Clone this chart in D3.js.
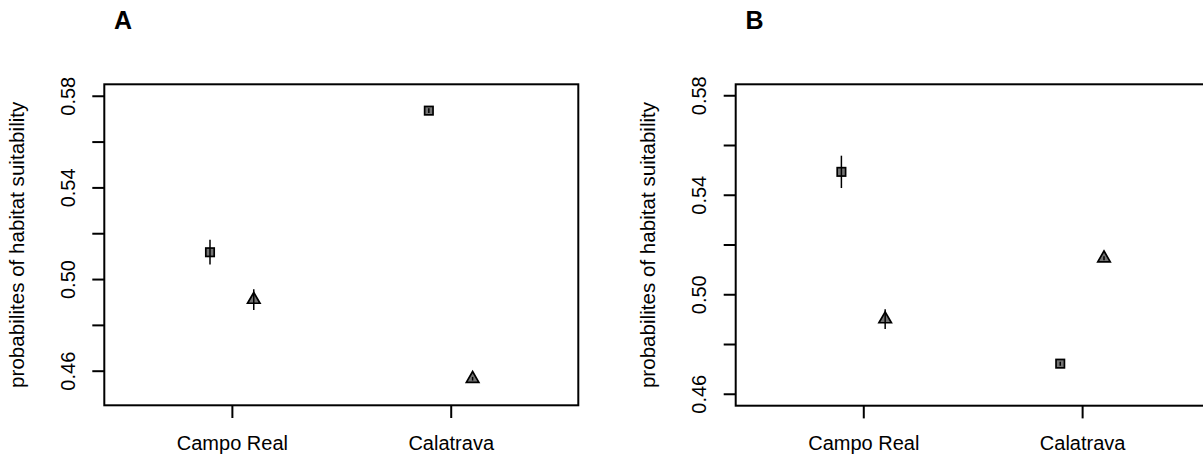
<!DOCTYPE html>
<html>
<head>
<meta charset="utf-8">
<script src="https://cdn.jsdelivr.net/npm/d3@7"></script>
<style>
  html, body { margin: 0; padding: 0; background: #fff; }
  svg { display: block; }
  text { font-family: Arial, "Liberation Sans", sans-serif; fill: #000; }
</style>
</head>
<body>
<svg id="chart" width="1203" height="455"></svg>
<script>
// ---- data ----
const sites = ["Campo Real", "Calatrava"];
const panelLabels = ["A", "B"];
const yTicks = [0.46, 0.48, 0.50, 0.52, 0.54, 0.56, 0.58];
const yTickLabels = ["0.46", "", "0.50", "", "0.54", "", "0.58"];
const yTitle = "probabilites of habitat suitability";

// panel A
const squareMeanA = [0.5117, 0.5735];
const squareErrA  = [0.0054, 0.0010];
const triMeanA    = [0.4910, 0.4565];
const triErrA     = [0.0045, 0.0008];
// panel B
const squareMeanB = [0.5492, 0.4721];
const squareErrB  = [0.0065, 0.0008];
const triMeanB    = [0.4900, 0.5145];
const triErrB     = [0.0040, 0.0008];

const yDomainA = [0.4449, 0.5850];
const yDomainB = [0.4552, 0.5844];

// ---- layout ----
const svg = d3.select("#chart");
const panels = [
  { label: panelLabels[0], left: 104.3, right: 578.3, top: 84.3, bottom: 405.3, yDomain: yDomainA,
    sq: squareMeanA, sqE: squareErrA, tr: triMeanA, trE: triErrA },
  { label: panelLabels[1], left: 735.7, right: 1209.7, top: 84.3, bottom: 405.7, yDomain: yDomainB,
    sq: squareMeanB, sqE: squareErrB, tr: triMeanB, trE: triErrB }
];
const offset = 0.1;
const fillGrey = "#737373";

panels.forEach(p => {
  const g = svg.append("g");
  const x = d3.scaleLinear().domain([0.417, 2.583]).range([p.left, p.right]);
  const y = d3.scaleLinear().domain(p.yDomain).range([p.bottom, p.top]);

  // panel letter
  g.append("text")
    .attr("x", p.left + 9.7).attr("y", 29)
    .style("font-size", "25px").style("font-weight", "bold")
    .text(p.label);

  // y axis
  const yAxis = d3.axisLeft(y).tickValues(yTicks)
    .tickFormat((d, i) => yTickLabels[i]).tickSize(12).tickSizeOuter(0);
  const ya = g.append("g").attr("transform", `translate(${p.left},0)`).call(yAxis);
  ya.select(".domain").remove();
  ya.selectAll(".tick line").attr("stroke", "#000").attr("stroke-width", 2);
  ya.selectAll(".tick text")
    .attr("x", null).attr("dy", null)
    .attr("transform", "translate(-29.3,0) rotate(-90)")
    .attr("text-anchor", "middle")
    .style("font-size", "20px").style("font-family", "Arial, 'Liberation Sans', sans-serif");

  // x axis
  const xAxis = d3.axisBottom(x).tickValues([1, 2])
    .tickFormat((d, i) => sites[i]).tickSize(12.7).tickSizeOuter(0);
  const xa = g.append("g").attr("transform", `translate(0,${p.bottom})`).call(xAxis);
  xa.select(".domain").remove();
  xa.selectAll(".tick line").attr("stroke", "#000").attr("stroke-width", 2);
  xa.selectAll(".tick text")
    .attr("y", 450.4 - p.bottom).attr("dy", null)
    .style("font-size", "20px").style("font-family", "Arial, 'Liberation Sans', sans-serif");

  // y title
  g.append("text")
    .attr("transform", `translate(${p.left - 80.5},${(p.top + p.bottom) / 2}) rotate(-90)`)
    .attr("text-anchor", "middle")
    .style("font-size", "20.6px")
    .text(yTitle);

  // box
  g.append("rect")
    .attr("x", p.left).attr("y", p.top)
    .attr("width", p.right - p.left).attr("height", p.bottom - p.top)
    .attr("fill", "none").attr("stroke", "#000").attr("stroke-width", 2);

  // squares
  const s = 8.4;
  g.selectAll(".sq").data(p.sq).join("rect")
    .attr("x", (d, i) => x(i + 1 - offset) - s / 2)
    .attr("y", d => y(d) - s / 2)
    .attr("width", s).attr("height", s)
    .attr("fill", fillGrey).attr("stroke", "#000").attr("stroke-width", 1.7);
  // triangles (R pch 24 geometry)
  const r = 7.2;
  const tri = (cx, cy) => {
    const xc = r * 1.3468 / 1.5551, yc = r / 2;
    return `M${cx},${cy - r}L${cx + xc},${cy + yc}L${cx - xc},${cy + yc}Z`;
  };
  g.selectAll(".tr").data(p.tr).join("path")
    .attr("d", (d, i) => tri(x(i + 1 + offset), y(d)))
    .attr("fill", fillGrey).attr("stroke", "#000").attr("stroke-width", 1.7)
    .attr("stroke-linejoin", "miter");

  // error bars (drawn on top)
  g.selectAll(".esq").data(p.sq).join("line")
    .attr("x1", (d, i) => x(i + 1 - offset)).attr("x2", (d, i) => x(i + 1 - offset))
    .attr("y1", (d, i) => y(d - p.sqE[i])).attr("y2", (d, i) => y(d + p.sqE[i]))
    .attr("stroke", "#000").attr("stroke-width", 1.5);
  g.selectAll(".etr").data(p.tr).join("line")
    .attr("x1", (d, i) => x(i + 1 + offset)).attr("x2", (d, i) => x(i + 1 + offset))
    .attr("y1", (d, i) => y(d - p.trE[i])).attr("y2", (d, i) => y(d + p.trE[i]))
    .attr("stroke", "#000").attr("stroke-width", 1.5);
});
</script>
</body>
</html>
